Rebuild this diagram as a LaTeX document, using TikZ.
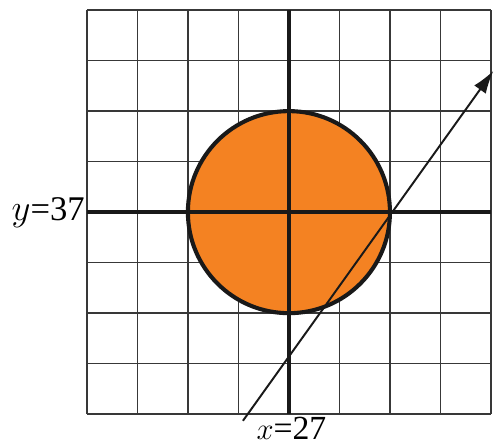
\documentclass[tikz,border=0pt]{standalone}
\usepackage{fontspec}
\setmainfont{Liberation Serif}
\usetikzlibrary{arrows.meta}
\definecolor{disc}{RGB}{244,130,34}

\begin{document}
\begin{tikzpicture}[scale=1.0]
  \useasboundingbox (-5.72,-4.57) rectangle (4.06,4.20);
  \draw[black!78, line width=0.85pt, step=1] (-4,-4) grid (4,4);

  \fill[disc] (0,0) circle (2);
  \draw[black!90, line width=2.3pt] (0,0) circle (2);

  \draw[black!90, line width=2.4pt] (-4,0) -- (4,0);
  \draw[black!90, line width=2.4pt] (0,-4) -- (0,4);

  \node[left, inner sep=1pt, font=\fontsize{19.5}{22}\selectfont] (ylab) at (-4.0,0.0) {$y$=37};
  \node[inner sep=0pt, font=\fontsize{19}{22}\selectfont] (xlab) at (0.05,-4.28) {$x$=27};

  % line through (2,0)
  \coordinate (A) at (-0.91,-4.13);
  \coordinate (B) at (4.05,2.80);
  \draw[black!90, line width=1.1pt, -{Latex[length=13pt,width=8pt]}] (A) -- (B);
\end{tikzpicture}
\end{document}
